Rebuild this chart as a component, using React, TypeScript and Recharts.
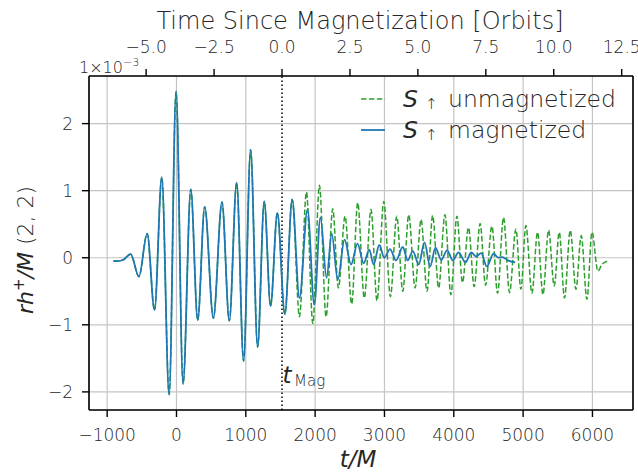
import React from 'react';
import {
  ComposedChart,
  Line,
  XAxis,
  YAxis,
  CartesianGrid,
  ReferenceLine,
  Label,
} from 'recharts';

// strain extrema, in units of 1e-3
const magT = [
  -910, -840, -768, -662, -542, -423, -317, -212, -106, -6, 95, 206, 306, 407, 532, 656, 762, 868,
  968, 1069, 1170, 1266, 1357, 1455, 1563, 1669, 1774, 1890, 1988, 2076, 2165, 2239, 2326, 2424,
  2518, 2611, 2700, 2781, 2843, 2925, 2997, 3080, 3167, 3264, 3336, 3408, 3495, 3577, 3659, 3736,
  3818, 3905, 3986, 4068, 4169, 4251, 4320, 4395, 4476, 4573, 4645, 4700, 4780, 4886,
];
const magH = [
  -0.05, -0.05, -0.03, 0.055, -0.28, 0.36, -0.78, 1.2, -2.04, 2.48, -1.88, 1.02, -0.93, 0.76, -0.9,
  0.83, -0.94, 1.12, -1.54, 1.61, -1.33, 0.84, -0.72, 0.67, -0.84, 0.87, -0.6, 0.72, -0.7, 0.6,
  -0.3, 0.36, -0.33, 0.27, -0.1, 0.21, -0.08, 0.12, -0.1, 0.19, 0.0, 0.13, -0.04, 0.16, -0.04, 0.1,
  -0.1, 0.23, -0.13, 0.15, -0.03, 0.11, -0.04, 0.08, -0.07, 0.08, 0.02, 0.07, -0.13, 0.06, 0.0,
  0.01, -0.04, -0.07,
];

const unmagT = [
  -910, -840, -768, -662, -542, -423, -317, -212, -106, -6, 95, 206, 306, 407, 532, 656, 762, 868,
  968, 1069, 1170, 1266, 1357, 1455, 1563, 1669, 1774, 1875, 1966, 2062, 2158, 2254, 2335, 2432,
  2527, 2614, 2709, 2806, 2892, 2990, 3086, 3177, 3264, 3350, 3442, 3528, 3614, 3695, 3781, 3872,
  3958, 4045, 4125, 4212, 4294, 4380, 4458, 4550, 4631, 4717, 4804, 4896, 4968, 5040, 5127, 5208,
  5286, 5367, 5449, 5521, 5597, 5680, 5762, 5838, 5921, 5993, 6079, 6137, 6224,
];
const unmagH = [
  -0.05, -0.05, -0.03, 0.055, -0.28, 0.36, -0.78, 1.2, -2.04, 2.48, -1.88, 1.02, -0.93, 0.76, -0.9,
  0.83, -0.94, 1.12, -1.54, 1.61, -1.33, 0.84, -0.72, 0.67, -0.84, 0.87, -0.88, 0.98, -0.98, 1.08,
  -0.88, 0.73, -0.45, 0.62, -0.69, 0.82, -0.6, 0.72, -0.64, 0.84, -0.58, 0.62, -0.5, 0.64, -0.45,
  0.57, -0.5, 0.63, -0.45, 0.64, -0.55, 0.62, -0.37, 0.45, -0.43, 0.51, -0.41, 0.47, -0.53, 0.6,
  -0.52, 0.43, -0.47, 0.48, -0.53, 0.38, -0.55, 0.41, -0.42, 0.38, -0.6, 0.41, -0.47, 0.33, -0.62,
  0.38, -0.2, -0.1, -0.05,
];

const xTicks = [-1000, 0, 1000, 2000, 3000, 4000, 5000, 6000];
const yTicks = [-2, -1, 0, 1, 2];
const orbitTicks = [-5, -2.5, 0, 2.5, 5, 7.5, 10, 12.5];
const tMag = 1522;
const mPerOrbit = 392;

const xDomain = [-1262, 6585];
const yDomain = [-2.27, 2.71];
const toOrbit = (t: number) => (t - tMag) / mPerOrbit;
const orbitDomain = xDomain.map(toOrbit);

const magnetized = magT.map((t, i) => ({ t, orbit: toOrbit(t), h: magH[i] }));
const unmagnetized = unmagT.map((t, i) => ({ t, orbit: toOrbit(t), h: unmagH[i] }));

const FONT = 'DejaVu Sans';
const INK = '#262626';
const GREEN = '#2ca02c';
const BLUE = '#1f77b4';

const minus = (s: string) => s.replace('-', '\u2212');
const tickStyle = { fontSize: 17, fill: INK, fontFamily: FONT, fontWeight: 300 };
const frame = { stroke: '#000', strokeWidth: 1.6 };
const tickLine = { stroke: '#000', strokeWidth: 1.4 };

const Legendish = () => (
  <g fontFamily={FONT} fill={INK}>
    <line x1={361} x2={385} y1={99} y2={99} stroke={GREEN} strokeWidth={1.5} strokeDasharray="5.5 2.4" />
    <text y={107} fontSize={23.5} fontWeight={300}>
      <tspan x={403} fontStyle="italic" fontWeight={400}>S</tspan>
      <tspan x={425} fontSize={15} dy={2}>↑</tspan>
      <tspan x={448} dy={-2}>unmagnetized</tspan>
    </text>
    <line x1={361} x2={385} y1={130} y2={130} stroke={BLUE} strokeWidth={1.8} />
    <text y={138} fontSize={23.5} fontWeight={300}>
      <tspan x={403} fontStyle="italic" fontWeight={400}>S</tspan>
      <tspan x={425} fontSize={15} dy={2}>↑</tspan>
      <tspan x={448} dy={-2}>magnetized</tspan>
    </text>
  </g>
);

export default function App() {
  return (
    <div style={{ position: 'absolute', left: 0, top: 0, background: '#fff' }}>
      <ComposedChart width={638} height={476} margin={{ top: 0, right: 0, bottom: 0, left: 0 }}>
        <CartesianGrid xAxisId="b" yAxisId="l" stroke="#c4c4c4" strokeWidth={1.2} />
        <XAxis
          xAxisId="b"
          dataKey="t"
          type="number"
          domain={xDomain}
          ticks={xTicks}
          allowDataOverflow
          height={66}
          tick={tickStyle}
          tickSize={7}
          tickMargin={12}
          tickLine={tickLine}
          axisLine={frame}
          tickFormatter={(v) => minus(String(v))}
        >
          <Label
            content={() => (
              <text x={358} y={467} textAnchor="middle" fontFamily={FONT} fontSize={23} fontStyle="italic" fill={INK}>
                t/M
              </text>
            )}
          />
        </XAxis>
        <XAxis
          xAxisId="top"
          dataKey="orbit"
          orientation="top"
          type="number"
          domain={orbitDomain}
          ticks={orbitTicks}
          allowDataOverflow
          height={76}
          tick={tickStyle}
          tickSize={7}
          tickMargin={16}
          tickLine={tickLine}
          axisLine={frame}
          tickFormatter={(v) => minus(Number(v).toFixed(1))}
        >
          <Label
            content={() => (
              <text x={360} y={29} textAnchor="middle" fontFamily={FONT} fontSize={24} fontWeight={300} fill={INK}>
                Time Since Magnetization [Orbits]
              </text>
            )}
          />
        </XAxis>
        <YAxis
          yAxisId="l"
          type="number"
          domain={yDomain}
          ticks={yTicks}
          allowDataOverflow
          width={89}
          tick={tickStyle}
          tickSize={7}
          tickMargin={9}
          tickLine={tickLine}
          axisLine={frame}
          tickFormatter={(v) => minus(String(v))}
        >
          <Label
            content={() => (
              <text transform="translate(33,250) rotate(-90)" textAnchor="middle" fontFamily={FONT} fontSize={22} fill={INK}>
                <tspan fontStyle="italic">rh</tspan>
                <tspan fontSize={15} dy={-9}>+</tspan>
                <tspan fontStyle="italic" dy={9}>/M</tspan>
                <tspan fontWeight={300}> (2, 2)</tspan>
              </text>
            )}
          />
          <Label
            content={() => (
              <text x={79} y={73} fontFamily={FONT} fontSize={16} fontWeight={300} fill={INK}>
                1×10
                <tspan fontSize={11} dy={-7}>{'\u22123'}</tspan>
              </text>
            )}
          />
        </YAxis>
        <YAxis
          yAxisId="r"
          orientation="right"
          type="number"
          domain={yDomain}
          allowDataOverflow
          width={5}
          tick={false}
          tickLine={false}
          axisLine={frame}
        >
          <Label content={() => <Legendish />} />
        </YAxis>
        <ReferenceLine
          xAxisId="b"
          yAxisId="l"
          x={tMag}
          stroke="#000"
          strokeWidth={1.5}
          strokeDasharray="1.5 2.5"
          label={(props: any) => {
            const x = props.viewBox ? props.viewBox.x : 282;
            return (
              <text y={383} fontFamily={FONT} fill={INK}>
                <tspan x={x + 0.5} fontSize={23} fontStyle="italic">t</tspan>
                <tspan x={x + 12} dy={3} fontSize={15} fontWeight={300}>Mag</tspan>
              </text>
            );
          }}
        />
        {/* carries the orbit axis; drawn with no stroke */}
        <Line
          xAxisId="top"
          yAxisId="r"
          data={unmagnetized}
          dataKey="h"
          stroke="none"
          dot={false}
          activeDot={false}
          legendType="none"
          isAnimationActive={false}
        />
        <Line
          xAxisId="b"
          yAxisId="l"
          data={unmagnetized}
          dataKey="h"
          type="monotone"
          stroke={GREEN}
          strokeWidth={1.5}
          strokeDasharray="5.5 2.4"
          dot={false}
          isAnimationActive={false}
        />
        <Line
          xAxisId="b"
          yAxisId="l"
          data={magnetized}
          dataKey="h"
          type="monotone"
          stroke={BLUE}
          strokeWidth={1.8}
          dot={false}
          isAnimationActive={false}
        />
      </ComposedChart>
    </div>
  );
}
